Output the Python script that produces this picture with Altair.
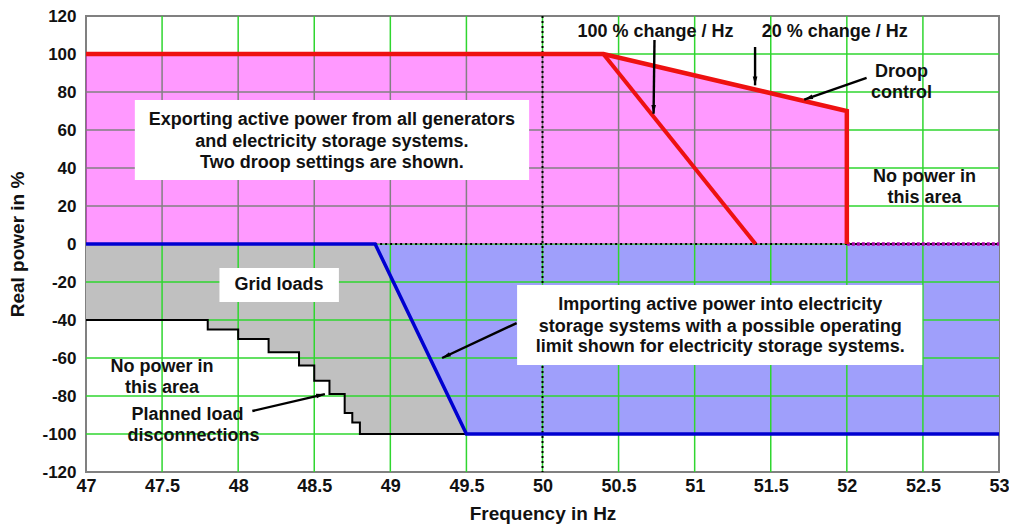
import math
import altair as alt
import pandas as pd

# ---------------- data ----------------
FREQ_TICKS = [47, 47.5, 48, 48.5, 49, 49.5, 50, 50.5, 51, 51.5, 52, 52.5, 53]
POWER_TICKS = [-120, -100, -80, -60, -40, -20, 0, 20, 40, 60, 80, 100, 120]

# generation droop settings
droop20_hz = [47, 50.4, 52, 52]
droop20_pct = [100, 100, 70, 0]
droop100_hz = [50.4, 51.4]
droop100_pct = [100, 0]

# storage import operating limit
storage_hz = [47, 48.9, 49.5, 53]
storage_pct = [0, 0, -100, -100]

# planned load disconnections (step-after)
shed_hz = [47, 47.8, 48.0, 48.2, 48.4, 48.5, 48.6, 48.7, 48.75, 48.8, 49.5]
shed_pct = [-40, -45, -50, -57, -64, -72, -79, -89, -94, -100, -100]

# annotation texts and positions (data units)
box_texts = [
    ("Exporting active power from all generators", 48.616, 65.3),
    ("and electricity storage systems.", 48.616, 53.8),
    ("Two droop settings are shown.", 48.616, 42.5),
    ("Grid loads", 48.269, -21.6),
    ("Importing active power into electricity", 51.168, -32.1),
    ("storage systems with a possible operating", 51.168, -43.5),
    ("limit shown for electricity storage systems.", 51.168, -54.4),
]
free_texts = [
    ("100 % change / Hz", 50.743, 111.7),
    ("20 % change / Hz", 51.921, 111.7),
    ("Droop", 52.36, 90.7),
    ("control", 52.36, 79.3),
    ("No power in", 52.51, 35.4),
    ("this area", 52.51, 24.1),
    ("No power in", 47.50, -64.6),
    ("this area", 47.50, -75.9),
    ("Planned load", 47.667, -90.0),
    ("disconnections", 47.707, -101.0),
]
boxes = [
    (47.321, 49.912, 33.7, 75.8),
    (47.877, 48.662, -30.5, -12.6),
    (49.833, 52.496, -63.7, -21.6),
]
arrows = [
    (50.736, 107.4, 50.730, 68.5),
    (51.397, 103.7, 51.397, 83.5),
    (52.130, 87.4, 51.720, 76.0),
    (49.830, -41.6, 49.340, -60.0),
    (48.093, -87.9, 48.570, -79.0),
]

# ---------------- layout / style ----------------
PLOT_W, PLOT_H = 913, 456
FONT = "Liberation Sans"

xs = alt.Scale(domain=[FREQ_TICKS[0], FREQ_TICKS[-1]], nice=False, zero=False)
ys = alt.Scale(domain=[POWER_TICKS[0], POWER_TICKS[-1]], nice=False, zero=False)
axis_style = dict(
    grid=False, ticks=False, tickSize=0, domain=False, labelExpr="'' + datum.value",
    labelFlush=False, labelFont=FONT, labelFontWeight="bold",
    labelColor="#111111", titleFont=FONT, titleFontSize=19, titleFontWeight="bold",
    titleColor="#111111",
)
x_axis = alt.Axis(values=FREQ_TICKS, title="Frequency in Hz", labelPadding=5,
                  labelFontSize=18, titlePadding=9, **axis_style)
y_axis = alt.Axis(values=POWER_TICKS, title="Real power in %", labelPadding=10,
                  labelFontSize=17, titlePadding=14, **axis_style)


def X(f, **kw):
    return alt.X(f, type="quantitative", scale=xs, axis=x_axis, **kw)


def Y(f, **kw):
    return alt.Y(f, type="quantitative", scale=ys, axis=y_axis, **kw)


def frame(hz, pct):
    return pd.DataFrame({"f": hz, "p": pct, "z": [0] * len(hz), "i": list(range(len(hz)))})


df_droop20 = frame(droop20_hz, droop20_pct)
df_droop100 = frame(droop100_hz, droop100_pct)
df_storage = frame(storage_hz, storage_pct)
df_shed = frame(shed_hz, shed_pct)
df_pink = frame(droop20_hz[:3], droop20_pct[:3])

# grey grid-load area (step-after staircase up to 0)
grey = alt.Chart(df_shed).mark_area(interpolate="step-after", color="#c0c0c0", opacity=1).encode(
    x=X("f"), y=Y("p"), y2="z:Q")

# blue storage-import area
blue_area = alt.Chart(df_storage).mark_area(color="#9f9ffb", opacity=1).encode(
    x=X("f"), y=Y("p"), y2="z:Q")

# grid lines
df_gx = pd.DataFrame({"f": FREQ_TICKS[1:-1]})
df_gy = pd.DataFrame({"p": POWER_TICKS[1:-1]})
grid_x = alt.Chart(df_gx).mark_rule(color="#2fd62f", strokeWidth=1.5).encode(x=X("f"))
grid_y = alt.Chart(df_gy).mark_rule(color="#2fd62f", strokeWidth=1.5).encode(y=Y("p"))

# pink export area (translucent magenta over the grid)
pink = alt.Chart(df_pink).mark_area(color="#ff00ff", opacity=0.4).encode(
    x=X("f"), y=Y("p"), y2="z:Q")

# dotted reference lines
df_v50 = pd.DataFrame({"f": [50]})
v50 = alt.Chart(df_v50).mark_rule(color="#000000", strokeWidth=2, strokeDash=[2, 3]).encode(x=X("f"))
df_h0 = pd.DataFrame({"f": [storage_hz[1]], "f2": [FREQ_TICKS[-1]], "p": [0]})
h0 = alt.Chart(df_h0).mark_rule(color="#000000", strokeWidth=2, strokeDash=[2, 3]).encode(
    x=X("f"), x2="f2", y=Y("p"))
df_h0m = pd.DataFrame({"f": [droop20_hz[-1]], "f2": [FREQ_TICKS[-1]], "p": [0]})
h0m = alt.Chart(df_h0m).mark_rule(color="#b000b0", strokeWidth=3.5, strokeDash=[3, 2]).encode(
    x=X("f"), x2="f2", y=Y("p"))

# lines
shed_line = alt.Chart(df_shed).mark_line(interpolate="step-after", color="#000000", strokeWidth=2).encode(
    x=X("f"), y=Y("p"), order="i:Q")
blue_line = alt.Chart(df_storage).mark_line(color="#0000d0", strokeWidth=3.5).encode(
    x=X("f"), y=Y("p"), order="i:Q")
red20 = alt.Chart(df_droop20).mark_line(color="#ee1111", strokeWidth=4.5).encode(
    x=X("f"), y=Y("p"), order="i:Q")
red100 = alt.Chart(df_droop100).mark_line(color="#ee1111", strokeWidth=4).encode(
    x=X("f"), y=Y("p"), order="i:Q")

# text boxes
df_boxes = pd.DataFrame(boxes, columns=["f", "f2", "p", "p2"])
box_layer = alt.Chart(df_boxes).mark_rect(color="#ffffff", opacity=1).encode(
    x=X("f"), x2="f2", y=Y("p"), y2="p2")

df_bt = pd.DataFrame(box_texts, columns=["t", "f", "p"])
df_ft = pd.DataFrame(free_texts, columns=["t", "f", "p"])
txt_kw = dict(font=FONT, fontSize=18, fontWeight="bold", color="#111111", align="center", baseline="middle")
box_text = alt.Chart(df_bt).mark_text(**txt_kw).encode(x=X("f"), y=Y("p"), text="t:N")
free_text = alt.Chart(df_ft).mark_text(**txt_kw).encode(x=X("f"), y=Y("p"), text="t:N")

# arrows
px_hz = PLOT_W / (FREQ_TICKS[-1] - FREQ_TICKS[0])
px_pct = PLOT_H / (POWER_TICKS[-1] - POWER_TICKS[0])
rows = []
for (x0, y0, x1, y1) in arrows:
    dx = (x1 - x0) * px_hz
    dy = -(y1 - y0) * px_pct
    ang = math.degrees(math.atan2(dx, -dy)) % 360
    rows.append({"f": x0, "p": y0, "f2": x1, "p2": y1, "ang": ang})
df_arr = pd.DataFrame(rows)
shafts = alt.Chart(df_arr).mark_rule(color="#000000", strokeWidth=2.4).encode(
    x=X("f"), x2="f2", y=Y("p"), y2="p2")
heads = alt.Chart(df_arr).mark_point(
    shape="M0,0L-0.5,1.9L0.5,1.9Z", filled=True, color="#000000", opacity=1, size=85, strokeWidth=0
).encode(x=X("f2"), y=Y("p2"), angle=alt.Angle("ang:Q", scale=None))

chart = alt.layer(
    grey, blue_area, grid_x, grid_y, pink, v50, h0, h0m,
    shed_line, blue_line, red100, red20,
    box_layer, box_text, free_text, shafts, heads,
).properties(
    width=PLOT_W, height=PLOT_H,
    autosize=alt.AutoSizeParams(type="none"),
    padding={"left": 78, "top": 8, "right": 10, "bottom": 55},
    background="#ffffff",
).configure_view(
    stroke="#808080", strokeWidth=2
)

chart.save("out.html", embed_options={"renderer": "svg", "actions": False})
